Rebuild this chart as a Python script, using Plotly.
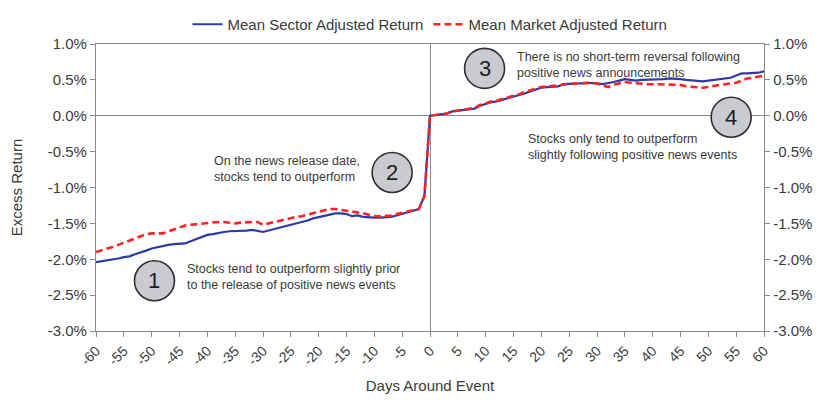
import plotly.graph_objects as go

days = list(range(-60, 61))

sector_adj = [
    -2.04, -2.03, -2.02, -2.00, -1.99, -1.97, -1.96, -1.93, -1.91, -1.88,
    -1.85, -1.83, -1.81, -1.80, -1.79, -1.79, -1.78, -1.75, -1.72, -1.69,
    -1.66, -1.65, -1.63, -1.62, -1.61, -1.61, -1.60, -1.60, -1.59, -1.61,
    -1.62, -1.60, -1.58, -1.57, -1.55, -1.53, -1.50, -1.48, -1.46, -1.43,
    -1.41, -1.39, -1.38, -1.36, -1.36, -1.37, -1.40, -1.39, -1.41, -1.42,
    -1.42, -1.42, -1.42, -1.41, -1.39, -1.37, -1.35, -1.33, -1.30, -1.12,
    0.00,
    0.01, 0.02, 0.03, 0.06, 0.07, 0.08, 0.08, 0.10, 0.14, 0.17,
    0.19, 0.20, 0.22, 0.24, 0.26, 0.28, 0.31, 0.34, 0.37, 0.39,
    0.40, 0.40, 0.41, 0.44, 0.44, 0.45, 0.45, 0.46, 0.46, 0.45,
    0.44, 0.45, 0.47, 0.49, 0.51, 0.50, 0.49, 0.50, 0.50, 0.50,
    0.51, 0.51, 0.52, 0.52, 0.51, 0.50, 0.49, 0.48, 0.48, 0.49,
    0.50, 0.51, 0.52, 0.53, 0.56, 0.59, 0.59, 0.59, 0.60, 0.62,
]

market_adj = [
    -1.90, -1.87, -1.85, -1.83, -1.80, -1.77, -1.74, -1.71, -1.68, -1.65,
    -1.64, -1.64, -1.64, -1.61, -1.58, -1.55, -1.53, -1.52, -1.51, -1.50,
    -1.49, -1.48, -1.48, -1.48, -1.49, -1.50, -1.49, -1.48, -1.48, -1.48,
    -1.52, -1.50, -1.48, -1.47, -1.45, -1.43, -1.41, -1.40, -1.38, -1.35,
    -1.33, -1.31, -1.30, -1.30, -1.31, -1.32, -1.34, -1.35, -1.36, -1.38,
    -1.40, -1.40, -1.40, -1.39, -1.37, -1.35, -1.33, -1.32, -1.30, -1.12,
    0.00,
    0.01, 0.02, 0.03, 0.06, 0.07, 0.08, 0.09, 0.11, 0.15, 0.18,
    0.20, 0.21, 0.23, 0.26, 0.28, 0.30, 0.33, 0.36, 0.38, 0.40,
    0.41, 0.42, 0.43, 0.44, 0.45, 0.45, 0.45, 0.46, 0.46, 0.45,
    0.42, 0.40, 0.43, 0.45, 0.47, 0.46, 0.45, 0.44, 0.44, 0.44,
    0.44, 0.44, 0.44, 0.44, 0.43, 0.41, 0.40, 0.39, 0.39, 0.40,
    0.42, 0.43, 0.44, 0.45, 0.46, 0.49, 0.52, 0.53, 0.54, 0.56,
]

x_ticks = list(range(-60, 61, 5))
x_tick_labels = [str(v) for v in x_ticks]
y_ticks = [1.0, 0.5, 0.0, -0.5, -1.0, -1.5, -2.0, -2.5, -3.0]
y_tick_labels = ["1.0%", "0.5%", "0.0%", "-0.5%", "-1.0%", "-1.5%", "-2.0%", "-2.5%", "-3.0%"]

# callouts: (number, day, value, text, text day, text value, text anchor)
callouts = [
    ("1", -49.5, -2.30, "Stocks tend to outperform slightly prior<br>to the release of positive news events", -44.0, -2.25, "left"),
    ("2", -6.8, -0.79, "On the news release date,<br>stocks tend to outperform", -12.2, -0.74, "right"),
    ("3", 9.8, 0.66, "There is no short-term reversal following<br>positive news announcements", 15.3, 0.71, "left"),
    ("4", 54.1, -0.02, "Stocks only tend to outperform<br>slightly following positive news events", 17.2, -0.43, "left"),
]

GRAY = "#8a8a8a"
TXT = "#3a3a3a"
FONT = "Liberation Sans, Arial, sans-serif"

fig = go.Figure()
fig.add_trace(go.Scatter(
    x=days, y=sector_adj, mode="lines", name="Mean Sector Adjusted Return",
    line=dict(color="#2b3aa6", width=2.2),
))
fig.add_trace(go.Scatter(
    x=days, y=market_adj, mode="lines", name="Mean Market Adjusted Return",
    line=dict(color="#ff2222", width=2.6, dash="7px,4px"),
))
# invisible trace to anchor the right-hand axis
fig.add_trace(go.Scatter(
    x=days, y=sector_adj, mode="lines", yaxis="y2", showlegend=False,
    hoverinfo="skip", line=dict(color="rgba(0,0,0,0)", width=0),
))

for num, cx, cy, text, tx, ty, anchor in callouts:
    fig.add_shape(
        type="circle", xref="x", yref="y", xsizemode="pixel", ysizemode="pixel",
        xanchor=cx, yanchor=cy, x0=-20, x1=20, y0=-20, y1=20,
        fillcolor="#c9cbd1", line=dict(color="#2e2e2e", width=1.6), layer="above",
    )
    fig.add_annotation(
        x=cx, y=cy, xref="x", yref="y", text=num, showarrow=False,
        font=dict(size=22, color="#1e1e1e", family=FONT),
    )
    fig.add_annotation(
        x=tx, y=ty, xref="x", yref="y", text=text, showarrow=False,
        xanchor=anchor, yanchor="middle", align="left",
        font=dict(size=12.5, color=TXT, family=FONT),
    )

fig.update_layout(
    width=814, height=394,
    margin=dict(l=88, r=58, t=36, b=71),
    paper_bgcolor="white", plot_bgcolor="white",
    font=dict(family=FONT, color=TXT, size=15),
    legend=dict(
        orientation="h", x=0.5, xanchor="center",
        yref="container", y=1.0, yanchor="top",
        font=dict(size=15, color=TXT), bgcolor="rgba(0,0,0,0)",
        itemwidth=30, tracegroupgap=0,
    ),
    showlegend=True,
    xaxis=dict(
        range=[-60, 60], tickvals=x_ticks, ticktext=x_tick_labels,
        tickangle=-45, ticks="outside", ticklen=5, tickcolor=GRAY,
        showline=True, linecolor=GRAY, linewidth=1.3, mirror=True,
        showgrid=False, zeroline=True, zerolinecolor=GRAY, zerolinewidth=1.2,
        tickfont=dict(size=14, color=TXT),
        title=dict(text="Days Around Event", font=dict(size=15, color=TXT), standoff=13),
        automargin=False,
    ),
    yaxis=dict(
        range=[-3.0, 1.0], tickvals=y_ticks, ticktext=y_tick_labels,
        ticks="outside", ticklen=5, tickcolor=GRAY,
        showline=True, linecolor=GRAY, linewidth=1.3,
        showgrid=False, zeroline=True, zerolinecolor=GRAY, zerolinewidth=1.2,
        tickfont=dict(size=15, color=TXT),
        title=dict(text="Excess Return", font=dict(size=15, color=TXT), standoff=23),
        automargin=False,
    ),
    yaxis2=dict(
        range=[-3.0, 1.0], tickvals=y_ticks, ticktext=y_tick_labels,
        overlaying="y", side="right",
        ticks="outside", ticklen=5, tickcolor=GRAY,
        showline=True, linecolor=GRAY, linewidth=1.3,
        showgrid=False, zeroline=False,
        tickfont=dict(size=15, color=TXT), automargin=False,
    ),
)

fig.write_html("out.html")
